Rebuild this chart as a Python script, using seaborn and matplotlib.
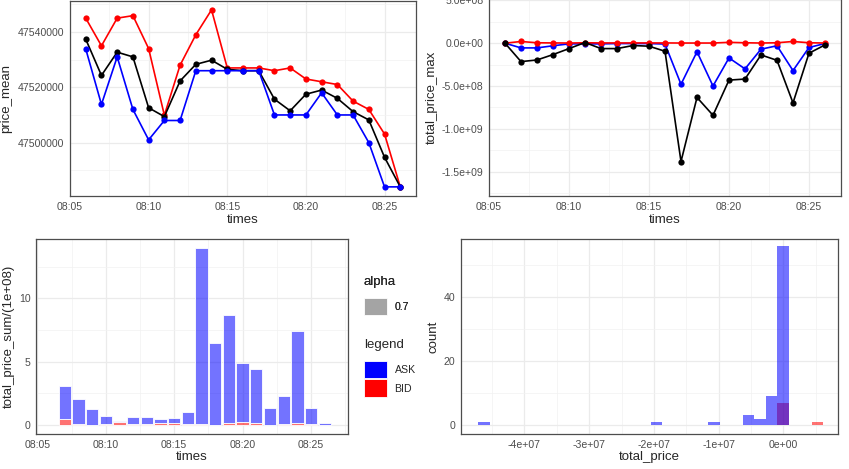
import numpy as np
import pandas as pd
import matplotlib
matplotlib.use("Agg")
import matplotlib.pyplot as plt
import matplotlib.ticker as mticker
from matplotlib.patches import Patch
import seaborn as sns

# ---- data ----
times = ["08:06", "08:07", "08:08", "08:09", "08:10", "08:11", "08:12",
         "08:13", "08:14", "08:15", "08:16", "08:17", "08:18", "08:19",
         "08:20", "08:21", "08:22", "08:23", "08:24", "08:25", "08:26"]

mean_bid = [47545000, 47535000, 47545000, 47545900, 47534000, 47509900, 47528000,
            47539000, 47548000, 47527000, 47527000, 47527000, 47526000, 47527000,
            47523000, 47522000, 47521000, 47515000, 47512000, 47503100, 47484000]
mean_ask = [47533900, 47513800, 47531000, 47512000, 47501000, 47508000, 47508000,
            47526000, 47526000, 47526000, 47526000, 47526000, 47510000, 47510000,
            47510000, 47518000, 47510000, 47510000, 47500000, 47484000, 47484000]
mean_all = [47537400, 47524300, 47532700, 47531000, 47512600, 47509400, 47522300,
            47528300, 47529800, 47526500, 47526000, 47526000, 47515700, 47511500,
            47517500, 47519000, 47516000, 47511200, 47508200, 47494700, 47484000]

max_bid = [0, 2.0e7, 5e6, 3e6, 2e6, 5e6, 3e6, 3e6, 3e6, 3e6, 3e6, 2e6, 2e6, 2e6,
           1.0e7, 5e6, 2e6, 5e6, 2.0e7, 5e6, 2e6]
max_ask = [0, -5.5e7, -5.5e7, -3.0e7, -8e6, -8e6, -8e6, -4e6, -4e6, -4e6, -1.0e7,
           -4.8e8, -1.0e8, -5.0e8, -1.72e8, -3.0e8, -7.0e7, -3.0e7, -3.2e8, -5.0e7, -4e6]
max_all = [0, -2.15e8, -1.96e8, -1.33e8, -6.3e7, 8e6, -6.3e7, -6.3e7, -2.7e7, -3.5e7,
           -9.4e7, -1.382e9, -6.34e8, -8.42e8, -4.31e8, -4.19e8, -1.37e8, -2.0e8,
           -6.97e8, -1.17e8, -2.0e7]

bar_times = times[1:]
sum_bid = [0.47, 0.08, 0.03, 0.05, 0.24, 0.05, 0.05, 0.18, 0.13, 0.05,
           0.05, 0.03, 0.13, 0.26, 0.16, 0.03, 0.10, 0.20, 0.08, 0.0]
sum_ask = [2.63, 1.97, 1.26, 0.63, 0.10, 0.61, 0.61, 0.32, 0.42, 0.97,
           13.91, 6.45, 8.53, 4.60, 4.30, 1.28, 2.16, 7.18, 1.26, 0.13]

hist_ask_price = [-4.625e7, -1.96e7, -1.07e7, -5.4e6, -3.6e6, -1.8e6, 0.0]
hist_ask_count = [1, 1, 1, 3, 2, 9, 56]
hist_bid_price = [0.0, 5.25e6]
hist_bid_count = [7, 1]

# ---- styling ----
sns.set_style("white")
plt.rcParams["font.family"] = ["Liberation Sans", "DejaVu Sans"]
BLUE, RED = "#0000FF", "#FF0000"
ALPHA = 0.55
W, H = 849, 469
TICK_FS, TITLE_FS = 7.6, 9.5


def minutes(ts):
    return [int(t[:2]) * 60 + int(t[3:]) - 480 for t in ts]


def box(l, t, r, b):
    return [l / W, 1 - b / H, (r - l) / W, (b - t) / H]


def bw_theme(ax, xmaj, xmin, ymaj, ymin):
    ax.xaxis.set_major_locator(mticker.MultipleLocator(xmaj))
    ax.xaxis.set_minor_locator(mticker.MultipleLocator(xmin))
    ax.yaxis.set_major_locator(mticker.MultipleLocator(ymaj))
    ax.yaxis.set_minor_locator(mticker.MultipleLocator(ymin))
    ax.grid(True, which="major", color="#EBEBEB", lw=0.9)
    ax.grid(True, which="minor", color="#F2F2F2", lw=0.5)
    ax.set_axisbelow(True)
    for s in ax.spines.values():
        s.set_color("#4D4D4D")
        s.set_linewidth(0.9)
    ax.tick_params(which="major", length=2.5, width=0.7, color="#333333",
                   labelsize=TICK_FS, labelcolor="#4D4D4D", pad=1.5)
    ax.tick_params(which="minor", length=0)
    ax.xaxis.label.set_size(TITLE_FS)
    ax.yaxis.label.set_size(TITLE_FS)


time_fmt = mticker.FuncFormatter(lambda v, p: f"08:{int(round(v)):02d}")

fig = plt.figure(figsize=(W / 100, H / 100), dpi=100)

# ---- top left: price_mean ----
ax1 = fig.add_axes(box(70, 1, 416, 196))
tm = minutes(times)
kw = dict(marker="o", markersize=4.5, linewidth=1.2, markeredgewidth=0)
sns.lineplot(x=tm, y=mean_bid, color=RED, ax=ax1, **kw)
sns.lineplot(x=tm, y=mean_all, color="black", ax=ax1, **kw)
sns.lineplot(x=tm, y=mean_ask, color=BLUE, ax=ax1, **kw)
bw_theme(ax1, 5, 2.5, 20000, 10000)
ax1.set_xlim(5, 27)
ax1.set_ylim(47480700, 47551200)
ax1.xaxis.set_major_formatter(time_fmt)
ax1.yaxis.set_major_formatter(mticker.FuncFormatter(lambda v, p: f"{v:.0f}"))
ax1.set_xlabel("times", labelpad=2)
ax1.set_ylabel("price_mean", labelpad=4)

# ---- top right: total_price_max ----
ax2 = fig.add_axes(box(489, -2, 841, 196))
sns.lineplot(x=tm, y=max_ask, color=BLUE, ax=ax2, **kw)
sns.lineplot(x=tm, y=max_bid, color=RED, ax=ax2, **kw)
sns.lineplot(x=tm, y=max_all, color="black", ax=ax2, **kw)
bw_theme(ax2, 5, 2.5, 5e8, 2.5e8)
ax2.set_xlim(5, 27)
ax2.set_ylim(-1.785e9, 5.28e8)
ax2.xaxis.set_major_formatter(time_fmt)
ax2.yaxis.set_major_formatter(mticker.FuncFormatter(lambda v, p: f"{v:.1e}"))
ax2.set_xlabel("times", labelpad=2)
ax2.set_ylabel("total_price_max", labelpad=3)

# ---- bottom left: stacked bars of total_price_sum ----
ax3 = fig.add_axes(box(36, 239, 348, 434))
bm = minutes(bar_times)
bars = pd.DataFrame({
    "minute": bm + bm,
    "value": sum_bid + sum_ask,
    "legend": ["BID"] * len(bm) + ["ASK"] * len(bm),
})
sns.histplot(data=bars, x="minute", weights="value", hue="legend",
             hue_order=["ASK", "BID"], palette={"ASK": BLUE, "BID": RED},
             multiple="stack", discrete=True, shrink=0.9, alpha=ALPHA,
             edgecolor="white", linewidth=0.6, legend=False, ax=ax3)
bw_theme(ax3, 5, 2.5, 5, 2.5)
ax3.set_xlim(4.9, 27.7)
ax3.set_ylim(-0.7, 14.67)
ax3.xaxis.set_major_formatter(time_fmt)
ax3.set_xlabel("times", labelpad=1)
ax3.set_ylabel("total_price_sum/(1e+08)", labelpad=3)

# ---- bottom right: histogram of total_price ----
ax4 = fig.add_axes(box(461, 239, 838, 434))
hist = pd.DataFrame({
    "total_price": hist_ask_price + hist_bid_price,
    "n": hist_ask_count + hist_bid_count,
    "legend": ["ASK"] * len(hist_ask_price) + ["BID"] * len(hist_bid_price),
})
lo, hi = hist["total_price"].min(), hist["total_price"].max()
bw = (hi - lo) / 29  # 30 bins centred on the data range, like ggplot
sns.histplot(data=hist, x="total_price", weights="n", hue="legend",
             hue_order=["ASK", "BID"], palette={"ASK": BLUE, "BID": RED},
             binwidth=bw, binrange=(lo - bw / 2, hi + bw / 2),
             multiple="layer", alpha=ALPHA, linewidth=0,
             legend=False, ax=ax4)
bw_theme(ax4, 1e7, 5e6, 20, 10)
ax4.set_xlim(-4.98e7, 8.45e6)
ax4.set_ylim(-2.8, 58.3)
ax4.xaxis.set_major_formatter(mticker.FuncFormatter(lambda v, p: f"{v:.0e}"))
ax4.set_xlabel("total_price", labelpad=1)
ax4.set_ylabel("count", labelpad=3)

# ---- legends ----
leg_kw = dict(frameon=False, fontsize=TICK_FS, title_fontsize=TITLE_FS,
              handlelength=2.2, handleheight=2.2, handletextpad=0.7,
              alignment="left", borderaxespad=0, labelspacing=0.1,
              borderpad=0)
alpha_leg = fig.legend(handles=[Patch(facecolor="#A4A4A4", edgecolor="white", linewidth=0.6)],
                       labels=["0.7"], title="alpha", loc="upper left",
                       bbox_to_anchor=(364 / W, 1 - 276 / H), **leg_kw)
alpha_leg._legend_box.sep = 7
fig.add_artist(alpha_leg)
col_leg = fig.legend(handles=[Patch(facecolor=BLUE, edgecolor="white", linewidth=0.6),
                              Patch(facecolor=RED, edgecolor="white", linewidth=0.6)],
                     labels=["ASK", "BID"], title="legend", loc="upper left",
                     bbox_to_anchor=(364 / W, 1 - 339 / H), **leg_kw)
col_leg._legend_box.sep = 7

fig.savefig("out.png", dpi=100)
